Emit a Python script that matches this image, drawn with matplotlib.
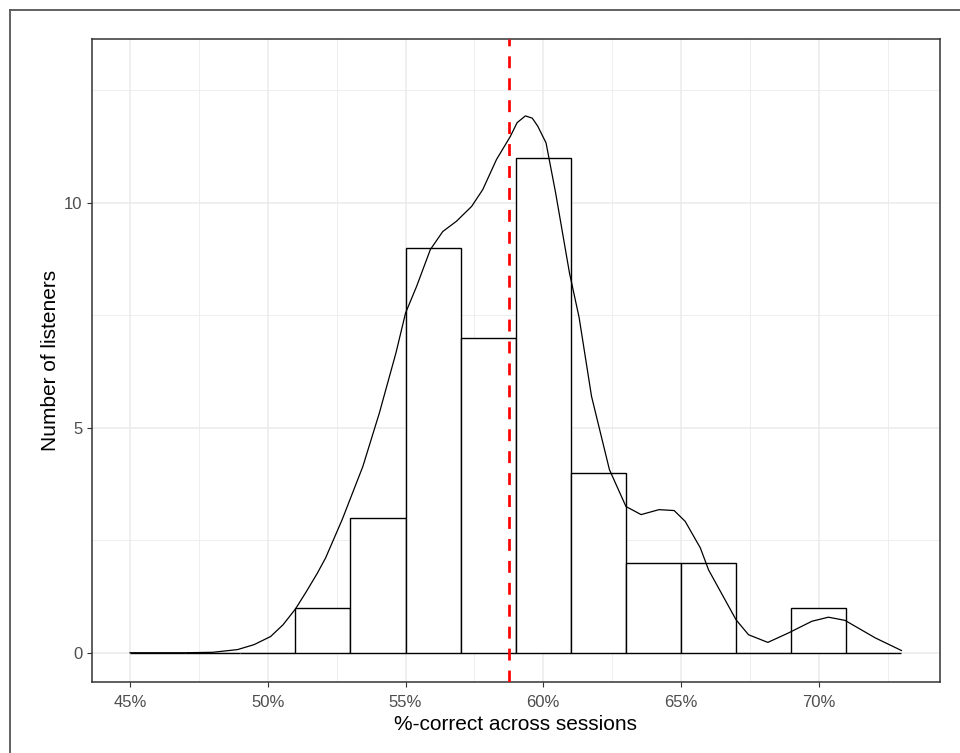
import numpy as np
import matplotlib
matplotlib.use("Agg")
import matplotlib.pyplot as plt
import matplotlib.ticker as tick
from matplotlib.lines import Line2D

# histogram of %-correct per listener (bins of 2 %)
bin_edges = [45, 47, 49, 51, 53, 55, 57, 59, 61, 63, 65, 67, 69, 71, 73]
bin_counts = [0, 0, 0, 1, 3, 9, 7, 11, 4, 2, 2, 0, 1, 0]

# density curve scaled to counts
dens_x = [45.0, 47.0, 48.0, 48.3, 48.9, 49.5, 50.1, 50.55, 51.0, 51.4, 51.8,
          52.1, 52.7, 53.45, 54.05, 54.65, 55.0, 55.4, 55.9, 56.35, 56.85,
          57.4, 57.8, 58.3, 58.8, 59.05, 59.35, 59.6, 59.8, 60.1, 60.45,
          60.95, 61.3, 61.75, 62.4, 63.0, 63.55, 64.2, 64.75, 65.15, 65.7,
          66.0, 67.0, 67.45, 68.15, 68.9, 69.75, 70.35, 70.95, 72.05, 73.0]
dens_y = [0.0, 0.0, 0.01, 0.03, 0.07, 0.18, 0.36, 0.62, 0.97, 1.36, 1.77,
          2.11, 2.96, 4.14, 5.33, 6.66, 7.55, 8.14, 8.96, 9.36, 9.59,
          9.92, 10.29, 10.96, 11.47, 11.78, 11.93, 11.88, 11.70, 11.33, 10.21,
          8.44, 7.45, 5.70, 4.07, 3.25, 3.07, 3.18, 3.16, 2.92, 2.33,
          1.84, 0.73, 0.40, 0.23, 0.44, 0.70, 0.79, 0.72, 0.33, 0.05]

mean_pct = 58.77

x_ticks = [45, 50, 55, 60, 65, 70]
x_labels = ["45%", "50%", "55%", "60%", "65%", "70%"]
y_ticks = [0, 5, 10]

plt.rcParams['font.family'] = ['Liberation Sans', 'DejaVu Sans']

fig = plt.figure(figsize=(9.6, 7.53), dpi=100)
ax = fig.add_axes([91.5 / 960, 1 - 682 / 753, (940 - 91.5) / 960, (682 - 38.5) / 753])

# bars (white fill, black outline)
edges = np.array(bin_edges)
ax.bar(edges[:-1], bin_counts, width=np.diff(edges), align="edge",
       facecolor="white", edgecolor="black", linewidth=1.0, zorder=2)

ax.plot(dens_x, dens_y, color="black", linewidth=0.9, zorder=3,
        solid_joinstyle="round")

ax.axvline(mean_pct, color="#FF0000", linewidth=1.95, dashes=(4.4, 3.7), zorder=4)

ax.set_xlim(43.6, 74.4)
ax.set_ylim(-0.65, 13.65)

ax.set_xticks(x_ticks)
ax.set_xticklabels(x_labels)
ax.set_yticks(y_ticks)
ax.xaxis.set_minor_locator(tick.MultipleLocator(2.5))
ax.yaxis.set_minor_locator(tick.MultipleLocator(2.5))

ax.grid(which="major", color="#EBEBEB", linewidth=1.1, zorder=0)
ax.grid(which="minor", color="#EBEBEB", linewidth=0.6, zorder=0)
ax.set_axisbelow(True)

ax.tick_params(which="major", length=3.6, width=0.8, color="#333333",
               labelsize=12, labelcolor="#4D4D4D", pad=3)
ax.tick_params(axis="x", which="major", pad=5.5)
ax.tick_params(which="minor", length=0)

for sp in ax.spines.values():
    sp.set_color("#333333")
    sp.set_linewidth(1.1)

ax.set_xlabel("%-correct across sessions", fontsize=15, color="black", labelpad=4)
ax.set_ylabel("Number of listeners", fontsize=15, color="black", labelpad=3)

# frame lines on the left and top of the image
fig.add_artist(Line2D([9.5 / 960, 9.5 / 960], [0, 1 - 9.5 / 753],
                      transform=fig.transFigure, color="#555555", linewidth=1.3))
fig.add_artist(Line2D([9.5 / 960, 1], [1 - 9.5 / 753, 1 - 9.5 / 753],
                      transform=fig.transFigure, color="#555555", linewidth=1.3))

fig.savefig("out.png", dpi=100, facecolor="white")
